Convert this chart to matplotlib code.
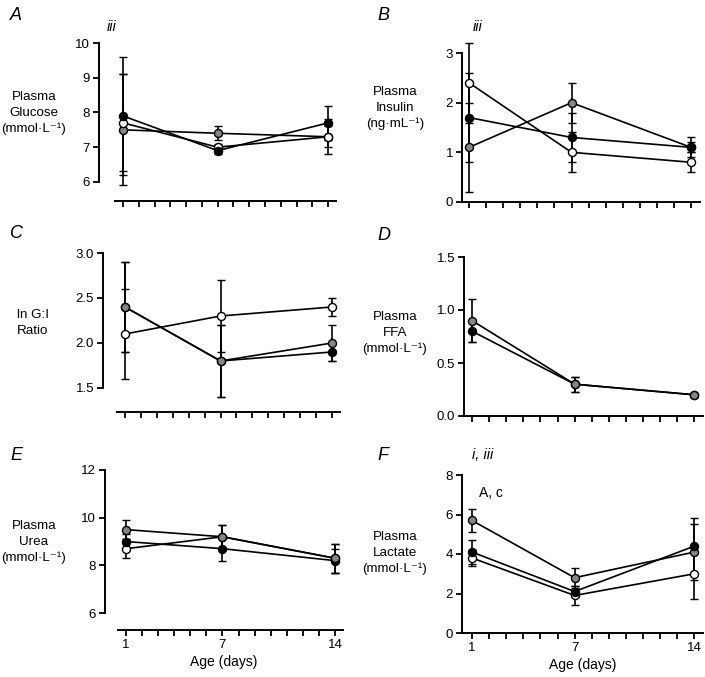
import matplotlib
matplotlib.use("Agg")
import matplotlib.pyplot as plt

plt.rcParams['font.family'] = ['Liberation Sans', 'DejaVu Sans']

days = [1, 7, 14]

# Panel A: Plasma glucose
glu_black = [7.9, 6.9, 7.7]; glu_black_err = [1.7, 0.1, 0.5]
glu_gray = [7.5, 7.4, 7.3]; glu_gray_err = [1.6, 0.2, 0.5]
glu_white = [7.7, 7.0, 7.3]; glu_white_err = [1.4, 0.1, 0.3]

# Panel B: Plasma insulin
ins_black = [1.7, 1.3, 1.1]; ins_black_err = [0.9, 0.5, 0.1]
ins_gray = [1.1, 2.0, 1.1]; ins_gray_err = [0.9, 0.4, 0.2]
ins_white = [2.4, 1.0, 0.8]; ins_white_err = [0.8, 0.4, 0.2]

# Panel C: ln G:I ratio
gi_black = [2.4, 1.8, 1.9]; gi_black_err = [0.5, 0.4, 0.1]
gi_gray = [2.4, 1.8, 2.0]; gi_gray_err = [0.5, 0.4, 0.2]
gi_white = [2.1, 2.3, 2.4]; gi_white_err = [0.5, 0.4, 0.1]

# Panel D: Plasma FFA
ffa_black = [0.8, 0.3, 0.2]; ffa_black_err = [0.1, 0.07, 0.02]
ffa_gray = [0.9, 0.3, 0.2]; ffa_gray_err = [0.2, 0.07, 0.02]

# Panel E: Plasma urea
urea_black = [9.0, 8.7, 8.2]; urea_black_err = [0.3, 0.5, 0.5]
urea_gray = [9.5, 9.2, 8.3]; urea_gray_err = [0.4, 0.5, 0.6]
urea_white = [8.7, 9.2, 8.3]; urea_white_err = [0.4, 0.5, 0.6]

# Panel F: Plasma lactate
lac_black = [4.1, 2.1, 4.4]; lac_black_err = [0.6, 0.3, 1.4]
lac_gray = [5.7, 2.8, 4.1]; lac_gray_err = [0.6, 0.5, 1.4]
lac_white = [3.8, 1.9, 3.0]; lac_white_err = [0.4, 0.5, 1.3]

W, H = 705, 677
fig = plt.figure(figsize=(W / 100, H / 100), dpi=100)

def add_ax(l, r, t, b):
    return fig.add_axes([l / W, 1 - b / H, (r - l) / W, (b - t) / H])

FILL = {'black': 'black', 'gray': '#858585', 'white': 'white'}
TFS = 9.5

def draw(ax, series, xlim, ylim, ybounds, yticks, ylabels, xlabels=False):
    for vals, errs, col in series:
        ax.errorbar(days, vals, yerr=errs, color='black', lw=1.2, elinewidth=1.2,
                    capsize=2.7, capthick=1.2, marker='o', ms=5.8, mfc=FILL[col],
                    mec='black', mew=1.0, zorder=3, clip_on=False)
    ax.set_xlim(*xlim)
    ax.set_ylim(*ylim)
    for s in ['top', 'right']:
        ax.spines[s].set_visible(False)
    ax.spines['left'].set_bounds(*ybounds)
    ax.spines['bottom'].set_bounds(max(xlim[0], 0.5), 14.5)
    for s in ['left', 'bottom']:
        ax.spines[s].set_linewidth(1.4)
    ax.set_yticks(yticks)
    ax.set_yticklabels(ylabels)
    ax.set_xticks(range(1, 15))
    if xlabels:
        ax.set_xticklabels(['1' if d == 1 else '7' if d == 7 else '14' if d == 14 else '' for d in range(1, 15)])
        ax.set_xlabel('Age (days)', fontsize=10, labelpad=3)
    else:
        ax.set_xticklabels([])
    ax.tick_params(direction='out', length=4, width=1.3, labelsize=TFS, pad=2.5)
    ax.patch.set_visible(False)

# A
axA = add_ax(99, 337, 43, 201)
draw(axA, [(glu_gray, glu_gray_err, 'gray'), (glu_white, glu_white_err, 'white'),
           (glu_black, glu_black_err, 'black')],
     (-0.52, 14.56), (5.45, 10), (6, 10), [6, 7, 8, 9, 10], ['6', '7', '8', '9', '10'])
# B
axB = add_ax(462, 700, 53, 202)
draw(axB, [(ins_gray, ins_gray_err, 'gray'), (ins_black, ins_black_err, 'black'),
           (ins_white, ins_white_err, 'white')],
     (0.59, 14.52), (0, 3), (0, 3), [0, 1, 2, 3], ['0', '1', '2', '3'])
# C
axC = add_ax(103, 340, 253, 412)
draw(axC, [(gi_black, gi_black_err, 'black'), (gi_white, gi_white_err, 'white'),
           (gi_gray, gi_gray_err, 'gray')],
     (-0.38, 14.5), (1.233, 3.0), (1.5, 3.0), [1.5, 2.0, 2.5, 3.0], ['1.5', '2.0', '2.5', '3.0'])
# D
axD = add_ax(464, 703, 257, 416)
draw(axD, [(ffa_black, ffa_black_err, 'black'), (ffa_gray, ffa_gray_err, 'gray')],
     (0.53, 14.5), (0, 1.5), (0, 1.5), [0, 0.5, 1.0, 1.5], ['0.0', '0.5', '1.0', '1.5'])
# E
axE = add_ax(105, 343, 470, 630)
draw(axE, [(urea_white, urea_white_err, 'white'), (urea_black, urea_black_err, 'black'),
           (urea_gray, urea_gray_err, 'gray')],
     (-0.31, 14.5), (5.29, 12), (6, 12), [6, 8, 10, 12], ['6', '8', '10', '12'], xlabels=True)
# F
axF = add_ax(462, 703, 475, 633)
draw(axF, [(lac_white, lac_white_err, 'white'), (lac_gray, lac_gray_err, 'gray'),
           (lac_black, lac_black_err, 'black')],
     (0.42, 14.5), (0, 8), (0, 8), [0, 2, 4, 6, 8], ['0', '2', '4', '6', '8'], xlabels=True)
axF.text(2.1, 7.1, 'A, c', fontsize=10, ha='center', va='center')

def ftext(x, y, s, **kw):
    fig.text(x / W, 1 - y / H, s, **kw)

# panel letters
for x, y, s in [(10, 16, 'A'), (377, 16, 'B'), (10, 234, 'C'), (377, 236, 'D'),
                (10, 455, 'E'), (377, 455, 'F')]:
    ftext(x, y, s, fontsize=13, style='italic', ha='left', va='center')

# significance notes
ftext(112, 27, 'iii', fontsize=10.5, style='italic', ha='center', va='center')
ftext(478, 27, 'iii', fontsize=10.5, style='italic', ha='center', va='center')
ftext(483, 455, 'i, iii', fontsize=10.5, style='italic', ha='center', va='center')

# y labels
unit = '(mmol·L⁻¹)'
for x, y, s in [(34, 113, 'Plasma\nGlucose\n' + unit),
                (395, 108, 'Plasma\nInsulin\n(ng·mL⁻¹)'),
                (33, 323, 'ln G:I\nRatio'),
                (395, 333, 'Plasma\nFFA\n' + unit),
                (34, 542, 'Plasma\nUrea\n' + unit),
                (395, 553, 'Plasma\nLactate\n' + unit)]:
    ftext(x, y, s, fontsize=9.6, ha='center', va='center', multialignment='center',
          linespacing=1.4)

fig.savefig('out.png', dpi=100)
